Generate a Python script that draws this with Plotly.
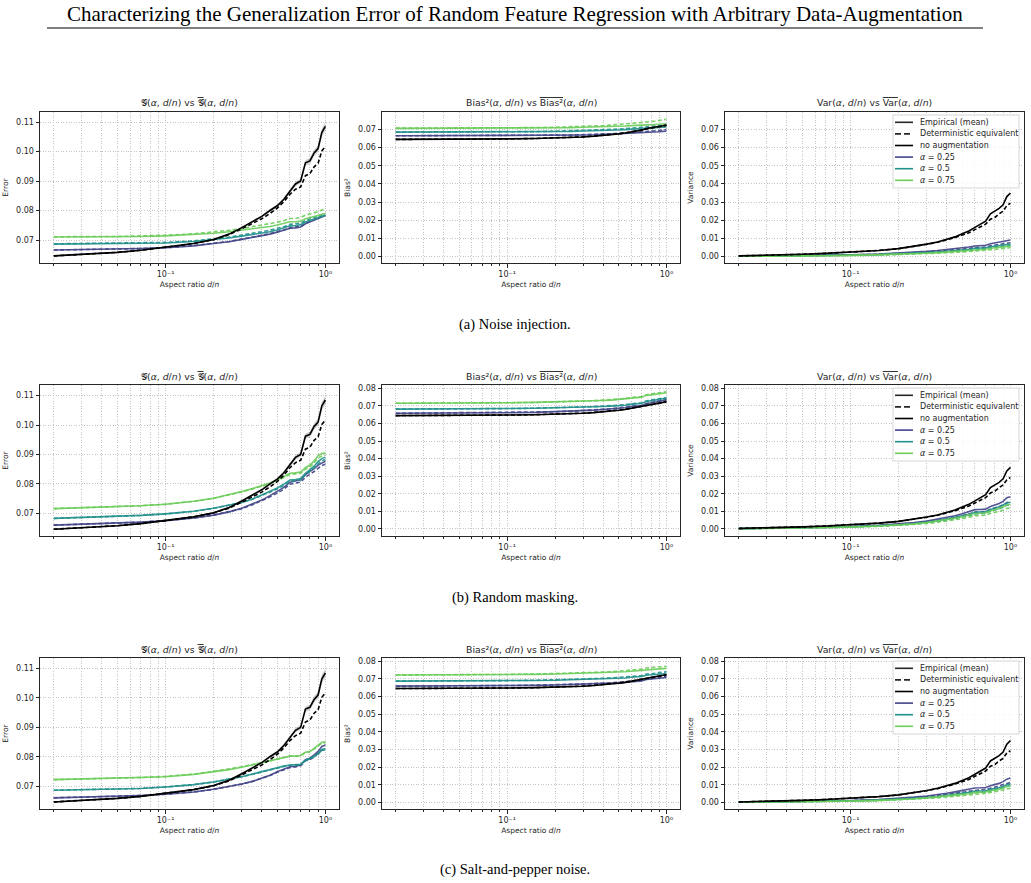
import plotly.graph_objects as go

# ---------------- data ----------------
X = [0.02, 0.03, 0.05, 0.07, 0.1, 0.15, 0.2, 0.25, 0.3, 0.35, 0.4, 0.45,
     0.5, 0.55, 0.6, 0.65, 0.7, 0.75, 0.8, 0.85, 0.9, 0.95, 1.0]

ALPHAS = [0.25, 0.5, 0.75]

# no augmentation (same baseline in every row)
ERR_NONE_EMP = [0.0646, 0.0651, 0.0658, 0.0665, 0.0675, 0.0688, 0.0702, 0.0720, 0.0742, 0.0762, 0.0780, 0.0800,
                0.0816, 0.0838, 0.0866, 0.0890, 0.0900, 0.0962, 0.0968, 0.0995, 0.1010, 0.1065, 0.1085]
ERR_NONE_DET = [0.0646, 0.0651, 0.0658, 0.0665, 0.0675, 0.0688, 0.0701, 0.0718, 0.0738, 0.0755, 0.0772, 0.0790,
                0.0808, 0.0830, 0.0855, 0.0872, 0.0880, 0.0918, 0.0925, 0.0948, 0.0960, 0.1002, 0.1017]
ERR_NONE_STD = [0.0002, 0.0002, 0.0002, 0.0002, 0.0002, 0.0002, 0.0003, 0.0003, 0.0003, 0.0004, 0.0004, 0.0005,
                0.0005, 0.0006, 0.0007, 0.0008, 0.0008, 0.0009, 0.0010, 0.0011, 0.0012, 0.0014, 0.0016]
BIAS_NONE_EMP = [0.0645, 0.0645, 0.0646, 0.0647, 0.0648, 0.0650, 0.0652, 0.0655, 0.0658, 0.0662, 0.0666, 0.0670,
                 0.0675, 0.0680, 0.0686, 0.0692, 0.0696, 0.0705, 0.0708, 0.0712, 0.0714, 0.0720, 0.0725]
BIAS_NONE_DET = [0.0645, 0.0645, 0.0646, 0.0647, 0.0648, 0.0650, 0.0652, 0.0655, 0.0659, 0.0663, 0.0667, 0.0671,
                 0.0676, 0.0681, 0.0687, 0.0692, 0.0698, 0.0703, 0.0707, 0.0711, 0.0715, 0.0719, 0.0722]
VAR_NONE_EMP = [0.0003, 0.0006, 0.0012, 0.0017, 0.0023, 0.0033, 0.0043, 0.0055, 0.0068, 0.0080, 0.0093, 0.0108,
                0.0125, 0.0140, 0.0160, 0.0180, 0.0195, 0.0235, 0.0250, 0.0265, 0.0285, 0.0330, 0.0350]
VAR_NONE_DET = [0.0003, 0.0006, 0.0012, 0.0017, 0.0023, 0.0033, 0.0043, 0.0055, 0.0067, 0.0078, 0.0090, 0.0104,
                0.0118, 0.0130, 0.0148, 0.0165, 0.0178, 0.0205, 0.0215, 0.0235, 0.0250, 0.0280, 0.0293]

# (a) noise injection
NI_ERR_EMP = {
    0.25: [0.0666, 0.0667, 0.0669, 0.0671, 0.0674, 0.0680, 0.0688, 0.0694, 0.0702, 0.0708, 0.0714, 0.0720,
           0.0726, 0.0732, 0.0740, 0.0741, 0.0744, 0.0755, 0.0761, 0.0766, 0.0772, 0.0779, 0.0783],
    0.5:  [0.0686, 0.0687, 0.0688, 0.0689, 0.0690, 0.0695, 0.0701, 0.0707, 0.0713, 0.0718, 0.0723, 0.0728,
           0.0734, 0.0740, 0.0748, 0.0749, 0.0752, 0.0761, 0.0766, 0.0770, 0.0775, 0.0781, 0.0784],
    0.75: [0.0710, 0.0710, 0.0711, 0.0712, 0.0714, 0.0718, 0.0723, 0.0728, 0.0733, 0.0738, 0.0742, 0.0746,
           0.0751, 0.0756, 0.0762, 0.0762, 0.0764, 0.0772, 0.0776, 0.0779, 0.0782, 0.0787, 0.0790],
}
NI_ERR_DET = {
    0.25: [0.0666, 0.0667, 0.0669, 0.0671, 0.0674, 0.0681, 0.0689, 0.0695, 0.0703, 0.0709, 0.0716, 0.0722,
           0.0728, 0.0734, 0.0742, 0.0743, 0.0746, 0.0757, 0.0763, 0.0768, 0.0774, 0.0781, 0.0785],
    0.5:  [0.0687, 0.0688, 0.0689, 0.0690, 0.0692, 0.0697, 0.0704, 0.0710, 0.0717, 0.0722, 0.0728, 0.0733,
           0.0739, 0.0745, 0.0753, 0.0754, 0.0757, 0.0766, 0.0771, 0.0775, 0.0780, 0.0786, 0.0790],
    0.75: [0.0711, 0.0711, 0.0712, 0.0714, 0.0716, 0.0721, 0.0727, 0.0733, 0.0739, 0.0745, 0.0750, 0.0755,
           0.0760, 0.0766, 0.0773, 0.0773, 0.0776, 0.0784, 0.0788, 0.0792, 0.0796, 0.0802, 0.0806],
}
NI_BIAS_EMP = {
    0.25: [0.0665, 0.0665, 0.0665, 0.0665, 0.0665, 0.0666, 0.0667, 0.0668, 0.0669, 0.0670, 0.0672, 0.0673,
           0.0675, 0.0676, 0.0678, 0.0679, 0.0680, 0.0683, 0.0684, 0.0686, 0.0687, 0.0689, 0.0690],
    0.5:  [0.0685, 0.0685, 0.0685, 0.0685, 0.0686, 0.0687, 0.0688, 0.0689, 0.0691, 0.0692, 0.0694, 0.0695,
           0.0697, 0.0699, 0.0701, 0.0702, 0.0703, 0.0706, 0.0707, 0.0709, 0.0710, 0.0712, 0.0714],
    0.75: [0.0706, 0.0706, 0.0706, 0.0707, 0.0707, 0.0708, 0.0709, 0.0710, 0.0712, 0.0713, 0.0714, 0.0716,
           0.0717, 0.0719, 0.0721, 0.0721, 0.0722, 0.0725, 0.0726, 0.0727, 0.0728, 0.0730, 0.0731],
}
NI_BIAS_DET = {
    0.25: [0.0665, 0.0665, 0.0665, 0.0665, 0.0666, 0.0667, 0.0668, 0.0669, 0.0671, 0.0672, 0.0674, 0.0676,
           0.0678, 0.0680, 0.0682, 0.0683, 0.0685, 0.0688, 0.0690, 0.0692, 0.0694, 0.0697, 0.0699],
    0.5:  [0.0685, 0.0685, 0.0686, 0.0686, 0.0687, 0.0688, 0.0690, 0.0692, 0.0694, 0.0696, 0.0698, 0.0700,
           0.0702, 0.0704, 0.0707, 0.0708, 0.0710, 0.0713, 0.0715, 0.0717, 0.0719, 0.0722, 0.0724],
    0.75: [0.0707, 0.0707, 0.0707, 0.0708, 0.0709, 0.0710, 0.0712, 0.0714, 0.0717, 0.0719, 0.0721, 0.0724,
           0.0727, 0.0730, 0.0733, 0.0734, 0.0736, 0.0741, 0.0743, 0.0746, 0.0749, 0.0753, 0.0756],
}
NI_VAR_EMP = {
    0.25: [0.0001, 0.0002, 0.0004, 0.0006, 0.0009, 0.0013, 0.0018, 0.0023, 0.0028, 0.0033, 0.0038, 0.0042,
           0.0047, 0.0052, 0.0058, 0.0060, 0.0062, 0.0070, 0.0074, 0.0078, 0.0082, 0.0088, 0.0091],
    0.5:  [0.0001, 0.0002, 0.0003, 0.0005, 0.0007, 0.0010, 0.0014, 0.0018, 0.0022, 0.0025, 0.0029, 0.0032,
           0.0036, 0.0040, 0.0045, 0.0046, 0.0048, 0.0054, 0.0057, 0.0060, 0.0062, 0.0066, 0.0068],
    0.75: [0.0001, 0.0001, 0.0003, 0.0004, 0.0006, 0.0009, 0.0012, 0.0015, 0.0018, 0.0021, 0.0024, 0.0027,
           0.0030, 0.0033, 0.0037, 0.0038, 0.0040, 0.0045, 0.0047, 0.0050, 0.0052, 0.0055, 0.0057],
}
NI_VAR_DET = {
    0.25: [0.0001, 0.0002, 0.0004, 0.0006, 0.0008, 0.0012, 0.0016, 0.0020, 0.0024, 0.0028, 0.0032, 0.0036,
           0.0040, 0.0044, 0.0049, 0.0050, 0.0052, 0.0059, 0.0062, 0.0065, 0.0068, 0.0073, 0.0076],
    0.5:  [0.0001, 0.0002, 0.0003, 0.0004, 0.0006, 0.0009, 0.0012, 0.0016, 0.0019, 0.0022, 0.0025, 0.0028,
           0.0031, 0.0035, 0.0039, 0.0040, 0.0042, 0.0047, 0.0050, 0.0052, 0.0054, 0.0058, 0.0060],
    0.75: [0.0001, 0.0001, 0.0002, 0.0003, 0.0005, 0.0007, 0.0010, 0.0012, 0.0015, 0.0017, 0.0020, 0.0022,
           0.0025, 0.0027, 0.0031, 0.0032, 0.0033, 0.0037, 0.0039, 0.0041, 0.0043, 0.0046, 0.0048],
}

# (b) random masking
RM_ERR_EMP = {
    0.25: [0.0660, 0.0663, 0.0667, 0.0670, 0.0675, 0.0684, 0.0694, 0.0705, 0.0717, 0.0731, 0.0745, 0.0760,
           0.0774, 0.0788, 0.0806, 0.0810, 0.0814, 0.0832, 0.0842, 0.0852, 0.0864, 0.0872, 0.0877],
    0.5:  [0.0683, 0.0686, 0.0690, 0.0693, 0.0698, 0.0707, 0.0717, 0.0727, 0.0737, 0.0749, 0.0762, 0.0774,
           0.0786, 0.0799, 0.0813, 0.0815, 0.0818, 0.0836, 0.0848, 0.0860, 0.0876, 0.0886, 0.0891],
    0.75: [0.0716, 0.0719, 0.0723, 0.0726, 0.0731, 0.0741, 0.0751, 0.0763, 0.0774, 0.0784, 0.0793, 0.0803,
           0.0813, 0.0824, 0.0836, 0.0838, 0.0840, 0.0855, 0.0864, 0.0878, 0.0896, 0.0903, 0.0906],
}
RM_ERR_DET = {
    0.25: [0.0660, 0.0663, 0.0667, 0.0670, 0.0675, 0.0684, 0.0694, 0.0705, 0.0716, 0.0729, 0.0742, 0.0756,
           0.0769, 0.0782, 0.0799, 0.0802, 0.0806, 0.0823, 0.0832, 0.0842, 0.0853, 0.0862, 0.0867],
    0.5:  [0.0683, 0.0686, 0.0690, 0.0693, 0.0698, 0.0707, 0.0717, 0.0727, 0.0737, 0.0748, 0.0760, 0.0772,
           0.0783, 0.0795, 0.0809, 0.0811, 0.0814, 0.0831, 0.0842, 0.0854, 0.0868, 0.0878, 0.0883],
    0.75: [0.0716, 0.0719, 0.0723, 0.0726, 0.0731, 0.0741, 0.0751, 0.0762, 0.0773, 0.0783, 0.0792, 0.0801,
           0.0811, 0.0821, 0.0832, 0.0834, 0.0836, 0.0850, 0.0858, 0.0871, 0.0888, 0.0895, 0.0898],
}
RM_BIAS_EMP = {
    0.25: [0.0658, 0.0658, 0.0659, 0.0660, 0.0661, 0.0663, 0.0666, 0.0669, 0.0672, 0.0676, 0.0680, 0.0683,
           0.0686, 0.0690, 0.0696, 0.0699, 0.0702, 0.0712, 0.0716, 0.0722, 0.0727, 0.0731, 0.0734],
    0.5:  [0.0682, 0.0682, 0.0683, 0.0684, 0.0685, 0.0687, 0.0689, 0.0691, 0.0693, 0.0695, 0.0697, 0.0699,
           0.0701, 0.0704, 0.0709, 0.0712, 0.0715, 0.0725, 0.0728, 0.0733, 0.0737, 0.0741, 0.0743],
    0.75: [0.0715, 0.0715, 0.0716, 0.0717, 0.0718, 0.0720, 0.0722, 0.0724, 0.0726, 0.0728, 0.0731, 0.0733,
           0.0736, 0.0739, 0.0744, 0.0747, 0.0750, 0.0760, 0.0763, 0.0767, 0.0770, 0.0773, 0.0775],
}
RM_BIAS_DET = {
    0.25: [0.0658, 0.0659, 0.0660, 0.0661, 0.0662, 0.0664, 0.0667, 0.0670, 0.0673, 0.0677, 0.0681, 0.0684,
           0.0688, 0.0692, 0.0698, 0.0701, 0.0704, 0.0714, 0.0718, 0.0724, 0.0729, 0.0733, 0.0736],
    0.5:  [0.0682, 0.0682, 0.0683, 0.0684, 0.0685, 0.0687, 0.0689, 0.0691, 0.0694, 0.0696, 0.0699, 0.0701,
           0.0704, 0.0707, 0.0712, 0.0715, 0.0718, 0.0729, 0.0732, 0.0737, 0.0741, 0.0745, 0.0747],
    0.75: [0.0715, 0.0715, 0.0716, 0.0717, 0.0718, 0.0720, 0.0722, 0.0725, 0.0727, 0.0730, 0.0733, 0.0736,
           0.0739, 0.0742, 0.0748, 0.0751, 0.0754, 0.0764, 0.0767, 0.0771, 0.0775, 0.0778, 0.0781],
}
RM_VAR_EMP = {
    0.25: [0.0002, 0.0004, 0.0008, 0.0010, 0.0014, 0.0021, 0.0028, 0.0036, 0.0045, 0.0055, 0.0065, 0.0075,
           0.0086, 0.0097, 0.0110, 0.0111, 0.0113, 0.0128, 0.0135, 0.0145, 0.0157, 0.0178, 0.0183],
    0.5:  [0.0002, 0.0003, 0.0007, 0.0009, 0.0012, 0.0018, 0.0024, 0.0031, 0.0039, 0.0047, 0.0056, 0.0065,
           0.0074, 0.0084, 0.0095, 0.0096, 0.0098, 0.0111, 0.0117, 0.0126, 0.0136, 0.0148, 0.0152],
    0.75: [0.0001, 0.0003, 0.0006, 0.0008, 0.0011, 0.0017, 0.0023, 0.0029, 0.0037, 0.0045, 0.0053, 0.0061,
           0.0069, 0.0078, 0.0088, 0.0089, 0.0091, 0.0102, 0.0108, 0.0116, 0.0126, 0.0137, 0.0141],
}
RM_VAR_DET = {
    0.25: [0.0002, 0.0004, 0.0007, 0.0009, 0.0013, 0.0019, 0.0025, 0.0032, 0.0040, 0.0048, 0.0057, 0.0066,
           0.0075, 0.0085, 0.0096, 0.0097, 0.0099, 0.0112, 0.0118, 0.0127, 0.0137, 0.0150, 0.0155],
    0.5:  [0.0002, 0.0003, 0.0006, 0.0008, 0.0011, 0.0016, 0.0022, 0.0028, 0.0035, 0.0043, 0.0051, 0.0059,
           0.0067, 0.0076, 0.0086, 0.0087, 0.0089, 0.0101, 0.0107, 0.0115, 0.0124, 0.0135, 0.0140],
    0.75: [0.0001, 0.0003, 0.0005, 0.0007, 0.0010, 0.0015, 0.0020, 0.0025, 0.0031, 0.0038, 0.0045, 0.0052,
           0.0059, 0.0067, 0.0075, 0.0076, 0.0078, 0.0088, 0.0093, 0.0100, 0.0108, 0.0117, 0.0120],
}

# (c) salt-and-pepper noise
SP_ERR_EMP = {
    0.25: [0.0660, 0.0662, 0.0665, 0.0668, 0.0672, 0.0680, 0.0689, 0.0698, 0.0707, 0.0716, 0.0726, 0.0737,
           0.0749, 0.0757, 0.0766, 0.0768, 0.0772, 0.0790, 0.0795, 0.0806, 0.0818, 0.0835, 0.0840],
    0.5:  [0.0686, 0.0688, 0.0690, 0.0692, 0.0697, 0.0705, 0.0714, 0.0723, 0.0732, 0.0741, 0.0749, 0.0757,
           0.0764, 0.0768, 0.0772, 0.0772, 0.0774, 0.0788, 0.0794, 0.0803, 0.0811, 0.0825, 0.0828],
    0.75: [0.0722, 0.0724, 0.0727, 0.0729, 0.0732, 0.0740, 0.0748, 0.0756, 0.0764, 0.0772, 0.0779, 0.0785,
           0.0791, 0.0797, 0.0802, 0.0802, 0.0804, 0.0815, 0.0818, 0.0828, 0.0840, 0.0849, 0.0851],
}
SP_ERR_DET = {
    0.25: [0.0660, 0.0662, 0.0665, 0.0668, 0.0672, 0.0680, 0.0689, 0.0698, 0.0707, 0.0716, 0.0726, 0.0736,
           0.0747, 0.0755, 0.0763, 0.0765, 0.0769, 0.0786, 0.0790, 0.0800, 0.0810, 0.0822, 0.0826],
    0.5:  [0.0686, 0.0688, 0.0690, 0.0692, 0.0697, 0.0705, 0.0714, 0.0723, 0.0732, 0.0740, 0.0748, 0.0756,
           0.0763, 0.0767, 0.0771, 0.0771, 0.0773, 0.0787, 0.0792, 0.0800, 0.0808, 0.0821, 0.0824],
    0.75: [0.0722, 0.0724, 0.0727, 0.0729, 0.0733, 0.0741, 0.0750, 0.0758, 0.0766, 0.0773, 0.0780, 0.0786,
           0.0792, 0.0797, 0.0802, 0.0802, 0.0804, 0.0814, 0.0817, 0.0826, 0.0837, 0.0846, 0.0848],
}
SP_BIAS_EMP = {
    0.25: [0.0659, 0.0659, 0.0660, 0.0660, 0.0661, 0.0663, 0.0665, 0.0667, 0.0669, 0.0671, 0.0673, 0.0675,
           0.0677, 0.0680, 0.0684, 0.0686, 0.0688, 0.0696, 0.0698, 0.0702, 0.0704, 0.0707, 0.0708],
    0.5:  [0.0687, 0.0687, 0.0688, 0.0688, 0.0689, 0.0691, 0.0692, 0.0694, 0.0696, 0.0698, 0.0700, 0.0701,
           0.0703, 0.0705, 0.0709, 0.0711, 0.0713, 0.0720, 0.0722, 0.0725, 0.0727, 0.0729, 0.0730],
    0.75: [0.0722, 0.0722, 0.0723, 0.0723, 0.0724, 0.0725, 0.0727, 0.0729, 0.0731, 0.0733, 0.0735, 0.0736,
           0.0738, 0.0740, 0.0743, 0.0745, 0.0747, 0.0752, 0.0753, 0.0756, 0.0757, 0.0758, 0.0759],
}
SP_BIAS_DET = {
    0.25: [0.0659, 0.0659, 0.0660, 0.0661, 0.0662, 0.0664, 0.0666, 0.0668, 0.0671, 0.0673, 0.0675, 0.0678,
           0.0680, 0.0683, 0.0687, 0.0689, 0.0692, 0.0700, 0.0702, 0.0706, 0.0709, 0.0712, 0.0714],
    0.5:  [0.0687, 0.0687, 0.0688, 0.0689, 0.0690, 0.0692, 0.0694, 0.0696, 0.0699, 0.0701, 0.0703, 0.0705,
           0.0707, 0.0710, 0.0714, 0.0716, 0.0719, 0.0727, 0.0729, 0.0732, 0.0735, 0.0738, 0.0740],
    0.75: [0.0722, 0.0722, 0.0723, 0.0724, 0.0725, 0.0727, 0.0729, 0.0731, 0.0734, 0.0736, 0.0738, 0.0740,
           0.0743, 0.0746, 0.0750, 0.0752, 0.0755, 0.0761, 0.0763, 0.0766, 0.0768, 0.0770, 0.0771],
}
SP_VAR_EMP = {
    0.25: [0.0001, 0.0003, 0.0005, 0.0008, 0.0011, 0.0017, 0.0023, 0.0030, 0.0037, 0.0044, 0.0052, 0.0060,
           0.0068, 0.0075, 0.0082, 0.0083, 0.0085, 0.0095, 0.0100, 0.0108, 0.0118, 0.0132, 0.0138],
    0.5:  [0.0001, 0.0002, 0.0004, 0.0006, 0.0009, 0.0013, 0.0018, 0.0023, 0.0028, 0.0034, 0.0040, 0.0046,
           0.0052, 0.0058, 0.0064, 0.0065, 0.0066, 0.0074, 0.0078, 0.0084, 0.0091, 0.0101, 0.0104],
    0.75: [0.0001, 0.0002, 0.0004, 0.0005, 0.0008, 0.0012, 0.0016, 0.0021, 0.0026, 0.0031, 0.0036, 0.0041,
           0.0046, 0.0051, 0.0057, 0.0058, 0.0059, 0.0066, 0.0070, 0.0075, 0.0082, 0.0090, 0.0093],
}
SP_VAR_DET = {
    0.25: [0.0001, 0.0003, 0.0005, 0.0007, 0.0010, 0.0015, 0.0020, 0.0026, 0.0032, 0.0038, 0.0045, 0.0052,
           0.0058, 0.0064, 0.0071, 0.0072, 0.0074, 0.0083, 0.0087, 0.0094, 0.0102, 0.0110, 0.0113],
    0.5:  [0.0001, 0.0002, 0.0004, 0.0006, 0.0008, 0.0012, 0.0016, 0.0021, 0.0026, 0.0031, 0.0036, 0.0041,
           0.0047, 0.0052, 0.0058, 0.0059, 0.0060, 0.0067, 0.0071, 0.0076, 0.0083, 0.0092, 0.0095],
    0.75: [0.0001, 0.0002, 0.0003, 0.0005, 0.0007, 0.0010, 0.0014, 0.0018, 0.0022, 0.0026, 0.0031, 0.0035,
           0.0040, 0.0044, 0.0049, 0.0050, 0.0051, 0.0057, 0.0060, 0.0065, 0.0071, 0.0078, 0.0081],
}

ROW_CAPTIONS = ["(a) Noise injection.", "(b) Random masking.", "(c) Salt-and-pepper noise."]
MAIN_TITLE = "Characterizing the Generalization Error of Random Feature Regression with Arbitrary Data-Augmentation"
LEGEND_LABELS = ["Empirical (mean)", "Deterministic equivalent", "no augmentation",
                 "<i>α</i> = 0.25", "<i>α</i> = 0.5", "<i>α</i> = 0.75"]
X_TICKVALS = [0.1, 1.0]
X_TICKTEXT = ["10⁻¹", "10⁰"]
X_MINOR = [0.02, 0.03, 0.04, 0.05, 0.06, 0.07, 0.08, 0.09, 0.2, 0.3, 0.4, 0.5, 0.6, 0.7, 0.8, 0.9]

ROWS_DATA = [
    (NI_ERR_EMP, NI_ERR_DET, NI_BIAS_EMP, NI_BIAS_DET, NI_VAR_EMP, NI_VAR_DET),
    (RM_ERR_EMP, RM_ERR_DET, RM_BIAS_EMP, RM_BIAS_DET, RM_VAR_EMP, RM_VAR_DET),
    (SP_ERR_EMP, SP_ERR_DET, SP_BIAS_EMP, SP_BIAS_DET, SP_VAR_EMP, SP_VAR_DET),
]

# sanity check on lengths
for arr in [ERR_NONE_EMP, ERR_NONE_DET, ERR_NONE_STD, BIAS_NONE_EMP, BIAS_NONE_DET, VAR_NONE_EMP, VAR_NONE_DET]:
    assert len(arr) == len(X)
for group in ROWS_DATA:
    for d in group:
        for a in ALPHAS:
            assert len(d[a]) == len(X), (a, len(d[a]))

# ---------------- styling / layout ----------------
W, H = 1031, 883
COLS_PX = [(40, 339), (382, 680), (725, 1024)]
ROWS_PX = [(112, 263), (385, 536), (658, 809)]
CAPTION_Y = [324, 597, 869]
Y_RANGES = [
    [[0.0622, 0.1134], [-0.0036, 0.0796], [-0.0036, 0.0796]],
    [[0.0623, 0.1136], [-0.0040, 0.0819], [-0.0040, 0.0819]],
    [[0.0622, 0.1136], [-0.0037, 0.0818], [-0.0037, 0.0818]],
]
COLORS = {0.25: "#414487", 0.5: "#21918c", 0.75: "#6ccd5a"}
BLACK = "#000000"
DASH = "4px,2.4px"
GRID = "#c4c4c4"
AXC = "#262626"
FONT = "DejaVu Sans"
LW = 1.6


def px_x(p):
    return p / W


def px_y(p):
    return 1 - p / H


fig = go.Figure()
layout = dict(width=W, height=H, margin=dict(l=0, r=0, t=0, b=0),
              paper_bgcolor="white", plot_bgcolor="white", showlegend=False,
              font=dict(family=FONT, size=8, color=AXC))
annotations = []
shapes = []

TITLE_ERR = ("𝒢(<i>α</i>, <i>d</i>/<i>n</i>) vs "
             "<span style='text-decoration:overline'>𝒢</span>(<i>α</i>, <i>d</i>/<i>n</i>)")
TITLE_BIAS = ("Bias²(<i>α</i>, <i>d</i>/<i>n</i>) vs "
              "<span style='text-decoration:overline'>Bias²</span>(<i>α</i>, <i>d</i>/<i>n</i>)")
TITLE_VAR = ("Var(<i>α</i>, <i>d</i>/<i>n</i>) vs "
             "<span style='text-decoration:overline'>Var</span>(<i>α</i>, <i>d</i>/<i>n</i>)")
PANEL_TITLES = [TITLE_ERR, TITLE_BIAS, TITLE_VAR]
Y_TITLES = ["Error", "Bias²", "Variance"]

for r in range(3):
    err_e, err_d, bias_e, bias_d, var_e, var_d = ROWS_DATA[r]
    panels = [
        (ERR_NONE_EMP, ERR_NONE_DET, err_e, err_d, True),
        (BIAS_NONE_EMP, BIAS_NONE_DET, bias_e, bias_d, False),
        (VAR_NONE_EMP, VAR_NONE_DET, var_e, var_d, False),
    ]
    for c in range(3):
        idx = r * 3 + c + 1
        xn = "x" if idx == 1 else f"x{idx}"
        yn = "y" if idx == 1 else f"y{idx}"
        none_e, none_d, aug_e, aug_d, band = panels[c]

        if band:
            upper = [m + s for m, s in zip(none_e, ERR_NONE_STD)]
            lower = [m - s for m, s in zip(none_e, ERR_NONE_STD)]
            fig.add_trace(go.Scatter(x=X + X[::-1], y=upper + lower[::-1], xaxis=xn, yaxis=yn,
                                     mode="lines", fill="toself", fillcolor="rgba(0,0,0,0.18)",
                                     line=dict(width=0), hoverinfo="skip"))
        for a in ALPHAS:
            fig.add_trace(go.Scatter(x=X, y=aug_e[a], xaxis=xn, yaxis=yn, mode="lines",
                                     line=dict(color=COLORS[a], width=LW), opacity=0.9))
            fig.add_trace(go.Scatter(x=X, y=aug_d[a], xaxis=xn, yaxis=yn, mode="lines",
                                     line=dict(color=COLORS[a], width=LW, dash=DASH), opacity=0.9))
        fig.add_trace(go.Scatter(x=X, y=none_e, xaxis=xn, yaxis=yn, mode="lines",
                                 line=dict(color=BLACK, width=LW)))
        fig.add_trace(go.Scatter(x=X, y=none_d, xaxis=xn, yaxis=yn, mode="lines",
                                 line=dict(color=BLACK, width=LW, dash=DASH)))

        x0, x1 = COLS_PX[c]
        y0, y1 = ROWS_PX[r]
        ax_common = dict(showline=True, mirror=True, linecolor=AXC, linewidth=1,
                         ticks="outside", ticklen=3.5, tickwidth=0.8, tickcolor=AXC,
                         zeroline=False, showgrid=True, gridcolor=GRID, gridwidth=0.8,
                         griddash="1px,1.6px", tickfont=dict(family=FONT, size=8, color=AXC))
        layout["xaxis" if idx == 1 else f"xaxis{idx}"] = dict(
            ax_common, type="log", range=[-1.785, 0.085], anchor=yn,
            domain=[px_x(x0), px_x(x1)],
            tickmode="array", tickvals=X_TICKVALS, ticktext=X_TICKTEXT,
            minor=dict(tickmode="array", tickvals=X_MINOR, ticks="outside", ticklen=2,
                       tickwidth=0.6, tickcolor=AXC, showgrid=True, gridcolor=GRID,
                       gridwidth=0.8, griddash="1px,1.6px"),
            title=dict(text="Aspect ratio <i>d</i>/<i>n</i>", font=dict(family=FONT, size=7.5, color=AXC),
                       standoff=3),
        )
        layout["yaxis" if idx == 1 else f"yaxis{idx}"] = dict(
            ax_common, range=Y_RANGES[r][c], anchor=xn,
            domain=[px_y(y1), px_y(y0)], dtick=0.01, tick0=0, tickformat=".2f",
            title=dict(text=Y_TITLES[c], font=dict(family=FONT, size=7.5, color=AXC), standoff=6),
        )
        annotations.append(dict(text=PANEL_TITLES[c], xref="paper", yref="paper",
                                x=px_x((x0 + x1) / 2), y=px_y(y0 - 9), showarrow=False,
                                xanchor="center", yanchor="middle",
                                font=dict(family=FONT, size=9.3, color=AXC)))

    # caption per row
    annotations.append(dict(text=ROW_CAPTIONS[r], xref="paper", yref="paper", x=px_x(515),
                            y=px_y(CAPTION_Y[r]), showarrow=False, xanchor="center", yanchor="middle",
                            font=dict(family="Liberation Serif", size=14.5, color="black")))

    # manual legend inside variance panel
    right = COLS_PX[2][1]
    top = ROWS_PX[r][0]
    shapes.append(dict(type="rect", xref="paper", yref="paper",
                       x0=px_x(right - 131), x1=px_x(right - 5), y0=px_y(top + 76), y1=px_y(top + 3),
                       line=dict(color="#cccccc", width=0.8), fillcolor="rgba(255,255,255,0.85)",
                       layer="above"))
    styles = [(AXC, None), (AXC, "6px,3px"), (BLACK, None),
              (COLORS[0.25], None), (COLORS[0.5], None), (COLORS[0.75], None)]
    for k, (lab, (col, dsh)) in enumerate(zip(LEGEND_LABELS, styles)):
        yy = top + 10.3 + k * 11.6
        ln = dict(color=col, width=LW)
        if dsh:
            ln["dash"] = dsh
        shapes.append(dict(type="line", xref="paper", yref="paper", x0=px_x(right - 129),
                           x1=px_x(right - 111), y0=px_y(yy), y1=px_y(yy), line=ln, layer="above"))
        annotations.append(dict(text=lab, xref="paper", yref="paper", x=px_x(right - 106),
                                y=px_y(yy), showarrow=False, xanchor="left", yanchor="middle",
                                font=dict(family=FONT, size=8, color=AXC)))

# main title and rule
annotations.append(dict(text=MAIN_TITLE, xref="paper", yref="paper", x=px_x(515), y=px_y(14),
                        showarrow=False, xanchor="center", yanchor="middle",
                        font=dict(family="Liberation Serif", size=21, color="black")))
shapes.append(dict(type="line", xref="paper", yref="paper", x0=px_x(47), x1=px_x(983),
                   y0=px_y(28), y1=px_y(28), line=dict(color="black", width=1)))

layout["annotations"] = annotations
layout["shapes"] = shapes
fig.update_layout(**layout)
fig.write_html("out.html")
